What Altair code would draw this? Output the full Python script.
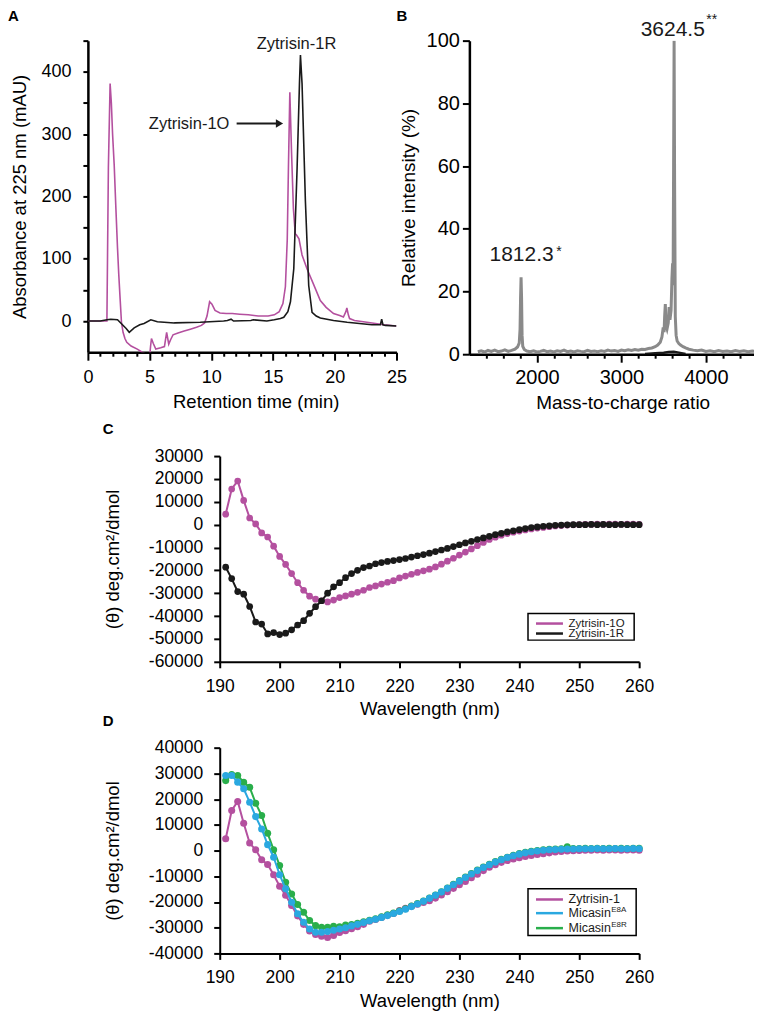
import altair as alt
import pandas as pd

# ---------------- Panel A : HPLC traces ----------------
a_ox_time = [0, 1.5, 1.54, 1.66, 1.72, 1.8, 1.9, 2.0, 2.13, 2.27, 2.4, 2.5, 2.61, 2.72, 2.85, 3.0, 3.15, 3.5, 4.0, 4.4,
             4.8, 5.0, 5.08, 5.15, 5.3, 5.5, 5.9, 6.2, 6.38, 6.55, 6.7, 6.9, 7.3, 7.8, 8.3, 8.8, 9.2, 9.45, 9.65, 9.86,
             10.05, 10.3, 10.7, 11.2, 11.7, 12.3, 13.0, 13.8, 14.6, 15.1, 15.5, 15.8, 16.0, 16.15, 16.25, 16.36, 16.5,
             16.65, 16.8, 16.9, 17.1, 17.35, 17.75, 18.3, 18.83, 19.3, 19.9, 20.4, 20.7, 20.9, 20.98, 21.1, 21.2, 21.6,
             22.6, 24.0, 25.0]
a_ox_abs = [0, 0, 0, 246, 305, 381, 350, 300, 251, 180, 117, 75, 36, -2, -18, -28, -34, -40, -45, -50,
            -54, -57, -40, -28, -36, -45, -43, -41, -18, -37, -30, -22, -19, -16, -13, -10, -7, -3, 8, 31,
            27, 17, 13, 12, 12, 11, 10, 8, 8, 10, 15, 28, 55, 130, 250, 367, 270,
            180, 140, 138, 132, 106, 84, 58, 33, 22, 12, 9, 6.5, 15, 21, 10, 4, 1,
            -2, -6, -8]
a_red_time = [0, 1.0, 1.55, 1.85, 2.4, 2.8, 3.1, 3.35, 3.75, 4.2, 4.55, 5.1, 5.63, 7.0, 9.1, 11.0, 11.3, 11.6,
              11.8, 13.2, 13.4, 14.5, 15.1, 15.6, 15.87, 16.2, 16.41, 16.68, 16.95, 17.14, 17.22, 17.35, 17.62,
              17.89, 18.16, 18.5, 18.83, 19.9, 21.0, 22.0, 23.0, 23.7, 23.8, 23.9, 24.1, 25.0]
a_red_abs = [0, 0, 2, 3, 2, -6, -12, -18, -11, -6, -4, 2, -1, -3, -2, 0, 1, 3,
             0, 1, 2, 0, 2, 4, 6, 15, 31, 84, 246, 381, 427, 381, 193,
             57, 14, 8, 5, 1, -2, -4, -6, -6, 3, -6, -7, -8]
a_labels = ["Zytrisin-1R", "Zytrisin-1O"]
a_label_t = [16.9, 8.2]
a_label_v = [445, 317]
a_arrow_t = [12.05, 15.3]
a_arrow_v = [317, 317]

# ---------------- Panel B : mass spectrum ----------------
b_mz = [1300, 1340, 1380, 1420, 1460, 1500, 1540, 1580, 1620, 1660,
        1700, 1740, 1770, 1790, 1800, 1806, 1812, 1818, 1824, 1832,
        1850, 1880, 1920, 1960, 2000, 2040, 2080, 2120, 2160, 2200,
        2240, 2280, 2320, 2360, 2400, 2440, 2480, 2520, 2560, 2600,
        2640, 2680, 2720, 2760, 2800, 2840, 2880, 2920, 2960, 3000,
        3040, 3080, 3120, 3160, 3200, 3240, 3280, 3320, 3360, 3400,
        3430, 3460, 3480, 3495, 3505, 3512, 3520, 3528, 3540, 3555,
        3565, 3575, 3588, 3598, 3606, 3612, 3618, 3624, 3630, 3638,
        3648, 3660, 3680, 3700, 3730, 3760, 3800, 3850, 3900, 3950,
        4000, 4050, 4100, 4150, 4200, 4250, 4300, 4350, 4400, 4450,
        4500, 4550, 4600]
b_int = [0.8, 1.1, 0.7, 1.2, 0.9, 1.3, 0.8, 1.0, 1.4, 0.9,
         1.2, 1.6, 2.3, 3.5, 8, 18, 24.5, 18, 6, 2.5,
         1.5, 1.0, 0.8, 1.1, 0.7, 0.9, 1.2, 0.8, 1.0, 0.7,
         1.1, 0.9, 1.3, 0.8, 1.0, 0.7, 1.1, 0.9, 0.8, 1.2,
         0.9, 1.0, 0.8, 1.1, 0.9, 1.3, 1.0, 1.2, 0.9, 1.3,
         1.1, 1.4, 1.2, 1.5, 1.3, 1.6, 1.5, 1.8, 2.0, 2.4,
         2.9, 3.8, 5.5, 8.5, 7, 12, 16, 9, 8, 10,
         15, 11, 14, 24, 29, 22, 60, 100, 55, 12,
         6, 4.2, 3.4, 2.9, 2.4, 2.0, 1.6, 1.3, 1.1, 1.3,
         0.9, 1.1, 0.8, 1.2, 0.9, 1.0, 0.8, 1.2, 0.9, 1.1,
         0.8, 1.0, 0.9]
b_blk_mz = [3280, 3400, 3500, 3560, 3620, 3680, 3760]
b_blk_int = [0.1, 0.3, 0.5, 0.7, 0.8, 0.5, 0.1]
b_peak_labels = ["3624.5", "1812.3"]
b_peak_mz = [3608, 1818]
b_peak_v = [103.3, 31.5]
b_star_labels = ["**", "*"]
b_star_mz = [4005, 2230]
b_star_v = [108.9, 34.7]

# ---------------- Panels C and D : CD spectra ----------------
wavelength = list(range(191, 261))
cd_zyt_1o = [4600, 15600, 19100, 10600, 2900, 300, -3600, -5400, -9400, -13900,
             -17400, -21400, -25400, -28700, -31300, -32600, -33300, -33800, -33000, -31900,
             -31200, -30400, -29600, -28700, -27500, -26800, -26000, -25200, -24500, -23300,
             -22500, -21700, -20900, -20200, -19500, -18500, -17300, -16000, -14700, -13300,
             -12000, -10600, -9200, -7800, -6500, -5500, -4600, -3900, -3300, -2800,
             -2300, -1900, -1500, -1200, -900, -600, -400, -200, -100, 0,
             100, 100, 200, 100, 200, 200, 100, 200, 200, 100]
cd_zyt_1r = [-18600, -23600, -29300, -30400, -35800, -42600, -43500, -47800, -47200, -48100,
             -47500, -46000, -43900, -42000, -38800, -35900, -33300, -30000, -27200, -25400,
             -23200, -21400, -20000, -18800, -18100, -17100, -16600, -16100, -15700, -15300,
             -14800, -14200, -13600, -13100, -12500, -11800, -11100, -10400, -9600, -8800,
             -8000, -7300, -6500, -5800, -5100, -4400, -3800, -3200, -2700, -2200,
             -1700, -1300, -1000, -700, -500, -300, -200, -100, 0, 0,
             0, 100, 0, 100, 0, 0, 100, 0, 0, 0]
cd_e8a = [29200, 29200, 26600, 24000, 18800, 13200, 8400, 2300, -2600, -9400,
          -14900, -20100, -24600, -27900, -30500, -31800, -31800, -31500, -31000, -30500,
          -30000, -29300, -28700, -28000, -27300, -26700, -26000, -25300, -24500, -23700,
          -22800, -21800, -20800, -19700, -18600, -17400, -16100, -14700, -13300, -11900,
          -10500, -9100, -7800, -6600, -5500, -4500, -3600, -2700, -2000, -1400,
          -900, -500, -200, 100, 300, 400, 500, 600, 600, 700,
          700, 700, 800, 700, 700, 800, 700, 700, 800, 700]
cd_e8r = [27200, 29600, 29200, 26500, 24600, 18400, 13600, 6700, 300, -5800,
          -12300, -16900, -21000, -24000, -27200, -29200, -29800, -29800, -29500, -29600,
          -29000, -28800, -28300, -27700, -27100, -26500, -25800, -25000, -24300, -23500,
          -22600, -21600, -20600, -19600, -18500, -17300, -16000, -14600, -13100, -11700,
          -10300, -8900, -7600, -6400, -5300, -4300, -3400, -2600, -1800, -1200,
          -700, -300, 0, 300, 500, 600, 700, 1500, 800, 800,
          900, 800, 900, 800, 900, 800, 900, 800, 900, 900]

FONT = "Liberation Sans"
MAG = "#b4509f"
BLK = "#1a1a1a"
GRY = "#8a8a8a"
BLU = "#2aa8e0"
GRN = "#29ae4b"

one = pd.DataFrame({"k": [0]})


def letter(ch, x, y):
    return alt.Chart(one).mark_text(text=ch, align="left", baseline="top", fontSize=15,
                                    fontWeight="bold", color="black").encode(x=alt.value(x), y=alt.value(y))


def mod_ticks(step):
    return {"condition": {"test": f"datum.value % {step} === 0", "value": 8}, "value": 4}


# ---------- A ----------
xA = alt.X("t:Q", title="Retention time (min)",
           scale=alt.Scale(domain=[0, 25], nice=False, zero=False),
           axis=alt.Axis(values=list(range(0, 26)),
                         labelExpr="datum.value % 5 === 0 ? '' + datum.value : ''",
                         tickSize=mod_ticks(5), labelPadding=8, labelFontSize=18, titleFontSize=18.5,
                         titlePadding=6, titleX=168, minExtent=34, maxExtent=34,
                         labelOverlap=False, labelFlush=False, domainWidth=2.5, tickWidth=2))
yA = alt.Y("v:Q", title="Absorbance at 225 nm (mAU)",
           scale=alt.Scale(domain=[-50, 450], nice=False, zero=False),
           axis=alt.Axis(values=list(range(0, 451, 50)),
                         labelExpr="datum.value % 100 === 0 ? '' + datum.value : ''",
                         tickSize=5, labelPadding=12, labelFontSize=18, titleFontSize=18.5,
                         titlePadding=11, minExtent=47, maxExtent=47,
                         labelOverlap=False, labelFlush=False, domainWidth=2.5, tickWidth=2))

dfA_ox = pd.DataFrame({"t": a_ox_time, "v": a_ox_abs})
dfA_red = pd.DataFrame({"t": a_red_time, "v": a_red_abs})
dfA_lab = pd.DataFrame({"t": a_label_t, "v": a_label_v, "label": a_labels})
dfA_arr = pd.DataFrame({"t": a_arrow_t, "v": a_arrow_v})
dfA_head = pd.DataFrame({"t": [a_arrow_t[1] + 0.22], "v": [a_arrow_v[1]]})

chartA = alt.layer(
    alt.Chart(dfA_ox).mark_line(color=MAG, strokeWidth=1.6, clip=True).encode(x=xA, y=yA),
    alt.Chart(dfA_red).mark_line(color=BLK, strokeWidth=1.6, clip=True).encode(x=xA, y=yA),
    alt.Chart(dfA_lab).mark_text(fontSize=16.5, color=BLK).encode(x=xA, y=yA, text="label:N"),
    alt.Chart(dfA_arr).mark_line(color=BLK, strokeWidth=2).encode(x=xA, y=yA),
    alt.Chart(dfA_head).mark_point(shape="triangle-right", filled=True, size=70, color=BLK, opacity=1).encode(x=xA, y=yA),
    letter("A", -80, -32),
).properties(width=309, height=312)

# ---------- B ----------
xB = alt.X("mz:Q", title="Mass-to-charge ratio",
           scale=alt.Scale(domain=[1200, 4570], nice=False, zero=False),
           axis=alt.Axis(values=list(range(1400, 4570, 200)),
                         labelExpr="datum.value % 1000 === 0 ? '' + datum.value : ''",
                         tickSize=mod_ticks(1000), labelPadding=5, labelFontSize=20, titleFontSize=19,
                         titlePadding=5, titleX=153.5, minExtent=34, maxExtent=34,
                         labelOverlap=False, labelFlush=False, domainWidth=2.5, tickWidth=2))
yB = alt.Y("v:Q", title="Relative intensity (%)",
           scale=alt.Scale(domain=[0, 100], nice=False, zero=False),
           axis=alt.Axis(values=list(range(0, 101, 20)), tickSize=7, labelPadding=3, labelFontSize=20,
                         titleFontSize=19, titlePadding=6, minExtent=45, maxExtent=45,
                         labelOverlap=False, labelFlush=False, domainWidth=2.5, tickWidth=2))

dfB = pd.DataFrame({"mz": b_mz, "v": b_int})
dfB_blk = pd.DataFrame({"mz": b_blk_mz, "v": b_blk_int})
dfB_lab = pd.DataFrame({"mz": b_peak_mz, "v": b_peak_v, "label": b_peak_labels})
dfB_star = pd.DataFrame({"mz": b_star_mz, "v": b_star_v, "label": b_star_labels})

chartB = alt.layer(
    alt.Chart(dfB).mark_line(color=GRY, strokeWidth=3, clip=True).encode(x=xB, y=yB),
    alt.Chart(dfB_blk).mark_line(color=BLK, strokeWidth=2.5, clip=True).encode(x=xB, y=yB),
    alt.Chart(dfB_lab).mark_text(fontSize=21, color=BLK).encode(x=xB, y=yB, text="label:N"),
    alt.Chart(dfB_star).mark_text(fontSize=14, color=BLK, align="left", baseline="top").encode(x=xB, y=yB, text="label:N"),
    letter("B", -73, -32),
).properties(width=285, height=314)


# ---------- C and D ----------
def cd_axes(ymin, ymax):
    x = alt.X("w:Q", title="Wavelength (nm)",
              scale=alt.Scale(domain=[190, 260], nice=False, zero=False),
              axis=alt.Axis(values=list(range(190, 261, 10)), tickSize=6, labelPadding=9.5,
                            labelFontSize=17.5, titleFontSize=18.5, titlePadding=5,
                            minExtent=33, maxExtent=33, labelFlush=False, labelOverlap=False,
                            domainWidth=2, tickWidth=2))
    y = alt.Y("v:Q", title="(θ) deg.cm²/dmol",
              scale=alt.Scale(domain=[ymin, ymax], nice=False, zero=False),
              axis=alt.Axis(values=list(range(ymin, ymax + 1, 10000)), labelExpr="'' + datum.value",
                            tickSize=6, labelPadding=11, labelFontSize=17.5, titleFontSize=18.5,
                            titlePadding=25, minExtent=72, maxExtent=72, labelFlush=False,
                            labelOverlap=False, domainWidth=2, tickWidth=2))
    return x, y


def series(values, color, x, y, size):
    df = pd.DataFrame({"w": wavelength, "v": values})
    base = alt.Chart(df).encode(x=x, y=y)
    return [base.mark_line(color=color, strokeWidth=2),
            base.mark_circle(color=color, size=size, opacity=1)]


def legend_box(x1, x2, y1, y2):
    return alt.Chart(one).mark_rect(fill="white", stroke="black", strokeWidth=1.5).encode(
        x=alt.value(x1), x2=alt.value(x2), y=alt.value(y1), y2=alt.value(y2))


def legend_line(color, y):
    return alt.Chart(one).mark_rule(color=color, strokeWidth=2.5).encode(
        x=alt.value(316.7), x2=alt.value(343.7), y=alt.value(y))


def legend_text(txt, x, y, size):
    return alt.Chart(one).mark_text(text=txt, align="left", baseline="middle", fontSize=size,
                                    color=BLK).encode(x=alt.value(x), y=alt.value(y))


xC, yC = cd_axes(-60000, 30000)
chartC = alt.layer(
    *series(cd_zyt_1o, MAG, xC, yC, 45),
    *series(cd_zyt_1r, BLK, xC, yC, 45),
    legend_box(308.7, 415, 157.7, 184.3),
    legend_line(MAG, 167.7), legend_line(BLK, 177.7),
    legend_text("Zytrisin-1O", 349.3, 167.7, 11.5),
    legend_text("Zytrisin-1R", 349.3, 177.7, 11.5),
    letter("C", -117, -34),
).properties(width=420, height=206)

xD, yD = cd_axes(-40000, 40000)
chartD = alt.layer(
    *series(cd_zyt_1o, MAG, xD, yD, 50),
    *series(cd_e8r, GRN, xD, yD, 50),
    *series(cd_e8a, BLU, xD, yD, 50),
    legend_box(308.7, 417, 141.3, 188),
    legend_line(MAG, 152), legend_line(BLU, 165.7), legend_line(GRN, 180.7),
    legend_text("Zytrisin-1", 349.3, 152, 12.5),
    legend_text("Micasin", 349.3, 165.7, 12.5),
    legend_text("E8A", 392, 162.3, 8),
    legend_text("Micasin", 349.3, 180.7, 12.5),
    legend_text("E8R", 392, 177.3, 8),
    letter("D", -117, -34),
).properties(width=420, height=206)


def spacer():
    return alt.Chart(one).mark_point(opacity=0, size=1).encode(
        x=alt.value(1), y=alt.value(1)).properties(width=132, height=206)


row1 = alt.hconcat(chartA, chartB, spacing=73, bounds="flush")
rowC = alt.hconcat(spacer(), chartC, spacing=0, bounds="flush")
rowD = alt.hconcat(spacer(), chartD, spacing=0, bounds="flush")
cd = alt.vconcat(rowC, rowD, spacing=-5)

chart = alt.vconcat(row1, cd, spacing=10).properties(padding=0).configure(
    font=FONT
).configure_view(strokeWidth=0).configure_axis(
    grid=False, domainColor="black", tickColor="black", labelColor="black",
    titleColor="black", titleFontWeight="normal", labelFont=FONT, titleFont=FONT
)

chart.save("out.html", embed_options={"renderer": "svg", "actions": False})
